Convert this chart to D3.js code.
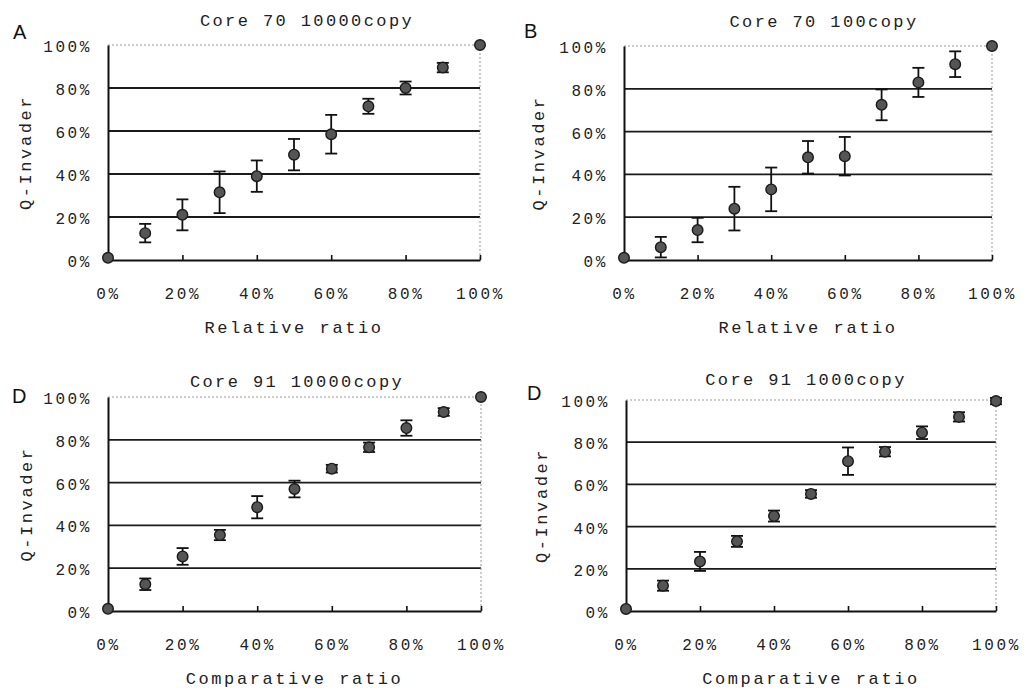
<html lang="en">
<head>
<meta charset="utf-8">
<title>Q-Invader vs ratio</title>
<script src="https://cdnjs.cloudflare.com/ajax/libs/d3/7.8.5/d3.min.js"></script>
<style>
  body { margin: 0; background: white; }
  svg { display: block; background: white; }
  .mono { font-family: "Liberation Mono", "DejaVu Sans Mono", monospace; fill: #222; }
  .tick-label { font-size: 16px; letter-spacing: 2.6px; }
  .title { font-size: 17px; letter-spacing: 2.4px; }
  .axis-title { font-size: 17px; letter-spacing: 2.6px; }
  .letter { font-family: "Liberation Sans", Arial, sans-serif; font-size: 20px; fill: #111; }
</style>
</head>
<body>
<script>
// ---- data ----
var ratios = [0, 10, 20, 30, 40, 50, 60, 70, 80, 90, 100];
var tickValues = [0, 20, 40, 60, 80, 100];

var panelLetters = ["A", "B", "D", "D"];
var panelTitles = ["Core 70 10000copy", "Core 70 100copy", "Core 91 10000copy", "Core 91 1000copy"];
var xTitles = ["Relative ratio", "Relative ratio", "Comparative ratio", "Comparative ratio"];
var yTitle = "Q-Invader";

// mean and error (sd) of Q-Invader, in %
var meanA = [1, 12.5, 21, 31.5, 39, 49, 58.5, 71.5, 80, 89.5, 100];
var sdA   = [0, 4.3, 7.2, 9.7, 7.3, 7.3, 9, 3.5, 3, 2.2, 0];
var meanB = [1, 6, 14, 24, 33, 48, 48.5, 72.5, 83, 91.5, 100];
var sdB   = [0, 4.8, 5.7, 10.2, 10.2, 7.6, 9, 7.2, 6.8, 6, 0];
var meanC = [1, 12.5, 25.5, 35.5, 48.5, 57, 66.5, 76.5, 85.5, 93, 100];
var sdC   = [0, 2.7, 3.9, 2.4, 5.2, 3.9, 1.8, 2.2, 3.6, 1.8, 0];
var meanD = [1, 12, 23.5, 33, 45, 55.5, 71, 75.5, 84.5, 92, 99.5];
var sdD   = [0, 2.4, 4.5, 2.6, 2.6, 1.8, 6.5, 2.2, 3, 2.2, 1.5];

var means = [meanA, meanB, meanC, meanD];
var sds = [sdA, sdB, sdC, sdD];

// plot-area boxes of the four panels, plus where their labels sit
var boxes = [
  {left: 108, right: 480, top: 45, bottom: 260, titleX: 307, titleY: 26, letterX: 13, letterY: 39, yTitleX: 25},
  {left: 624, right: 992, top: 46, bottom: 260, titleX: 824, titleY: 27, letterX: 524, letterY: 38, yTitleX: 538},
  {left: 108, right: 481, top: 397, bottom: 611, titleX: 297, titleY: 387, letterX: 12, letterY: 403, yTitleX: 26},
  {left: 626, right: 996, top: 400, bottom: 611, titleX: 806, titleY: 385, letterX: 527, letterY: 400, yTitleX: 541}
];

var svg = d3.select("body").append("svg")
  .attr("width", 1025)
  .attr("height", 690);

var fmt = function(d) { return d + "%"; };

boxes.forEach(function(b, i) {
  var w = b.right - b.left, h = b.bottom - b.top;
  var g = svg.append("g").attr("transform", "translate(" + b.left + "," + b.top + ")");

  var x = d3.scaleLinear().domain([0, 100]).range([0, w]);
  var y = d3.scaleLinear().domain([0, 100]).range([h, 0]);

  // horizontal grid lines at 20..80
  g.selectAll(".grid").data(tickValues.filter(function(d) { return d > 0 && d < 100; }))
    .enter().append("line")
    .attr("x1", 0).attr("x2", w)
    .attr("y1", function(d) { return y(d); }).attr("y2", function(d) { return y(d); })
    .attr("stroke", "#1a1a1a").attr("stroke-width", 1.8);

  // dotted top and right border
  g.append("path")
    .attr("d", "M0," + y(100) + "H" + w + "V" + h)
    .attr("fill", "none").attr("stroke", "#999").attr("stroke-width", 1)
    .attr("stroke-dasharray", "2,2");

  // y axis
  var yAxis = d3.axisLeft(y).tickValues(tickValues).tickFormat(fmt).tickSize(0).tickPadding(16);
  var ya = g.append("g").call(yAxis);
  ya.select(".domain").attr("stroke", "#111").attr("stroke-width", 2);
  ya.selectAll("text").attr("class", "mono tick-label").attr("fill", null).attr("dy", "0.4em");

  // x axis (small ticks pointing up)
  var xAxis = d3.axisBottom(x).tickValues(tickValues).tickFormat(fmt).tickSizeInner(-5).tickSizeOuter(0).tickPadding(28);
  var xa = g.append("g").attr("transform", "translate(0," + h + ")").call(xAxis);
  xa.select(".domain").attr("stroke", "#111").attr("stroke-width", 2);
  xa.selectAll("line").attr("stroke", "#111").attr("stroke-width", 1.6);
  xa.selectAll("text").attr("class", "mono tick-label").attr("fill", null);

  var pts = ratios.map(function(r, j) { return {r: r, m: means[i][j], s: sds[i][j]}; });

  // error bars
  var eb = g.selectAll(".eb").data(pts.filter(function(d) { return d.s > 0; }))
    .enter().append("g").attr("stroke", "#111").attr("stroke-width", 1.8);
  eb.append("line")
    .attr("x1", function(d) { return x(d.r); }).attr("x2", function(d) { return x(d.r); })
    .attr("y1", function(d) { return y(d.m + d.s); }).attr("y2", function(d) { return y(d.m - d.s); });
  [1, -1].forEach(function(sign) {
    eb.append("line")
      .attr("x1", function(d) { return x(d.r) - 6; }).attr("x2", function(d) { return x(d.r) + 6; })
      .attr("y1", function(d) { return y(d.m + sign * d.s); }).attr("y2", function(d) { return y(d.m + sign * d.s); });
  });

  // markers
  g.selectAll(".pt").data(pts).enter().append("circle")
    .attr("cx", function(d) { return x(d.r); })
    .attr("cy", function(d) { return y(d.m); })
    .attr("r", 5.3)
    .attr("fill", "#555").attr("stroke", "#1a1a1a").attr("stroke-width", 1.4);

  // titles
  svg.append("text").attr("class", "mono title")
    .attr("x", b.titleX).attr("y", b.titleY)
    .attr("text-anchor", "middle").text(panelTitles[i]);

  svg.append("text").attr("class", "mono axis-title")
    .attr("x", b.left + w / 2).attr("y", b.bottom + 73)
    .attr("text-anchor", "middle").text(xTitles[i]);

  svg.append("text").attr("class", "mono axis-title")
    .attr("transform", "translate(" + b.yTitleX + "," + (b.top + h / 2) + ") rotate(-90)")
    .attr("text-anchor", "middle").attr("dy", "0.35em").text(yTitle);

  svg.append("text").attr("class", "letter")
    .attr("x", b.letterX).attr("y", b.letterY)
    .text(panelLetters[i]);
});
</script>
</body>
</html>
